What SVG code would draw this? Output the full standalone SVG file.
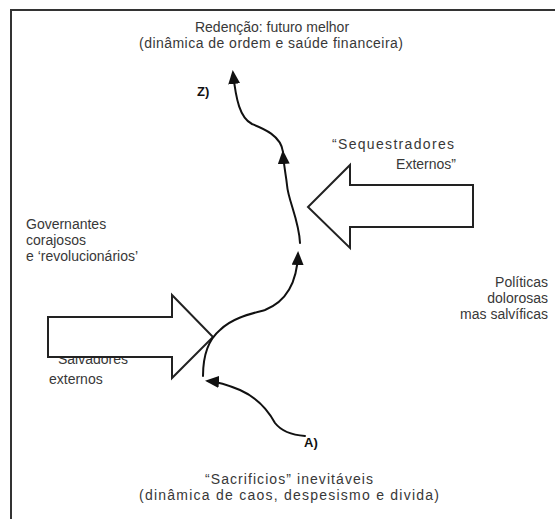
<svg xmlns="http://www.w3.org/2000/svg" width="555" height="519" viewBox="0 0 555 519">
<style>
.t{font-family:"Liberation Sans",Arial,sans-serif;font-size:14px;fill:#383838}
.m{text-anchor:middle}
.e{text-anchor:end}
.b{font-weight:bold;font-size:13px;fill:#111}
.big{fill:#fff;stroke:#222;stroke-width:2;stroke-linejoin:miter}
.c{fill:none;stroke:#111;stroke-width:2;stroke-linecap:round}
</style>
<defs>
<marker id="ah" markerUnits="userSpaceOnUse" markerWidth="14" markerHeight="12" viewBox="0 0 14 12" refX="11" refY="6" orient="auto">
<path d="M0,0 L14,6 L0,12 z" fill="#111"/>
</marker>
</defs>
<rect width="555" height="519" fill="#fff"/>
<g id="frame"><path d="M11,519 V10 H555" fill="none" stroke="#333" stroke-width="2"/></g>

<g id="redencao">
<text class="t m" x="272" y="32">Redenção: futuro melhor</text>
<text class="t m" x="271" y="48" textLength="264" lengthAdjust="spacing">(dinâmica de ordem e saúde financeira)</text>
</g>
<g id="sacrificios">
<text class="t m" x="289" y="484" textLength="168" lengthAdjust="spacing">“Sacrificios” inevitáveis</text>
<text class="t m" x="289" y="500" textLength="300" lengthAdjust="spacing">(dinâmica de caos, despesismo e divida)</text>
</g>
<g id="governantes">
<text class="t" x="26" y="229">Governantes</text>
<text class="t" x="26" y="245">corajosos</text>
<text class="t" x="26" y="261">e ‘revolucionários’</text>
</g>
<g id="politicas">
<text class="t e" x="548" y="287">Políticas</text>
<text class="t e" x="548" y="303">dolorosas</text>
<text class="t e" x="548" y="319">mas salvíficas</text>
</g>
<g id="sequestradores">
<text class="t" x="332" y="149" textLength="122" lengthAdjust="spacing">“Sequestradores</text>
<text class="t e" x="456" y="169">Externos”</text>
</g>
<g id="salvadores">
<text class="t" x="58" y="364">Salvadores</text>
<text class="t" x="49" y="384">externos</text>
</g>
<g id="seta-direita">
<polygon class="big" points="473,185 350,185 350,165 308,207 350,248 350,227 473,227"/>
</g>
<g id="seta-esquerda">
<polygon class="big" points="48,317 172,317 172,295 213,337 172,378 172,357 48,357"/>
</g>
<g id="label-z"><text class="t b" x="197" y="96">Z)</text></g>
<g id="label-a"><text class="t b" x="304" y="447">A)</text></g>

<g id="connectors">
<path class="c" marker-end="url(#ah)" d="M305,436 C292,435 282,432 275,423 C268,410 258,398 240,390 C228,385 220,382 208,381"/>
<path class="c" marker-end="url(#ah)" d="M203,376 C203,355 208,340 220,330 C232,318 250,314 265,310 C285,302 297,285 298,254"/>
<path class="c" marker-end="url(#ah)" d="M300,243 C299,220 288,200 287,185 C286,175 284,168 283,153"/>
<path class="c" marker-end="url(#ah)" d="M283,152 C281,135 262,128 252,124 C240,118 236,100 233,73"/>
</g>
</svg>
